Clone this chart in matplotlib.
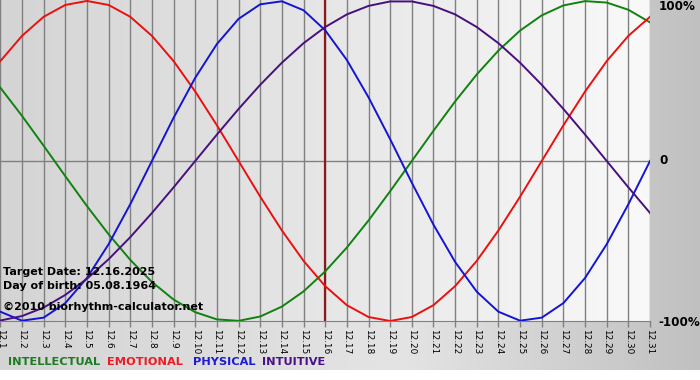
import numpy as np
import matplotlib
matplotlib.use('Agg')
import matplotlib.pyplot as plt

# days of December shown on the x axis
days = list(range(1, 32))
day_labels = ['12.%d' % d for d in days]
target_day = 16

# rhythm values (fraction of 100%) read per day
physical = [-0.942, -0.998, -0.979, -0.888, -0.731, -0.520, -0.270, 0.0, 0.270, 0.520,
            0.731, 0.888, 0.979, 0.998, 0.942, 0.817, 0.631, 0.398, 0.136, -0.136,
            -0.398, -0.631, -0.817, -0.942, -0.998, -0.979, -0.888, -0.731, -0.520, -0.270,
            0.0]
emotional = [0.624, 0.782, 0.901, 0.975, 1.0, 0.975, 0.901, 0.782, 0.624, 0.434,
             0.223, 0.0, -0.223, -0.434, -0.624, -0.782, -0.901, -0.975, -1.0, -0.975,
             -0.901, -0.782, -0.624, -0.434, -0.223, 0.0, 0.223, 0.434, 0.624, 0.782,
             0.901]
intellectual = [0.458, 0.282, 0.095, -0.095, -0.282, -0.458, -0.618, -0.756, -0.866, -0.945,
                -0.990, -0.999, -0.972, -0.910, -0.815, -0.690, -0.541, -0.372, -0.189, 0.0,
                0.189, 0.372, 0.541, 0.690, 0.815, 0.910, 0.972, 0.999, 0.990, 0.945,
                0.866]
intuitive = [-0.997, -0.969, -0.916, -0.837, -0.736, -0.614, -0.476, -0.325, -0.165, 0.0,
             0.165, 0.325, 0.476, 0.614, 0.736, 0.837, 0.916, 0.969, 0.997, 0.997,
             0.969, 0.916, 0.837, 0.736, 0.614, 0.476, 0.325, 0.165, 0.0, -0.165,
             -0.325]

series_names = ['INTELLECTUAL', 'EMOTIONAL', 'PHYSICAL', 'INTUITIVE']
series_values = [intellectual, emotional, physical, intuitive]
line_colors = ['#0f820f', '#ea1010', '#1414d4', '#48107e']
text_colors = ['#1e7b22', '#ee1c25', '#1c1cd4', '#4b1288']

W, H = 700, 380
fig = plt.figure(figsize=(W / 100, H / 100), dpi=100)

# grey frame behind everything, white strip at the very bottom
bg = fig.add_axes([0, 0, 1, 1], zorder=-1)
bg.axis('off')
shade = np.interp(np.arange(W), [0, 400, 650, 700], [212, 228, 198, 192]) / 255
img = np.ones((H, W, 3))
img[:370] = shade[None, :, None]
bg.imshow(img, extent=(0, 1, 0, 1), aspect='auto', interpolation='bilinear')
bg.set_xlim(0, 1)
bg.set_ylim(0, 1)

# plot area
ax = fig.add_axes([0.34 / W, 59 / H, 649.7 / W, 321 / H])
grad = np.linspace(212, 249, 256) / 255
ax.imshow(np.dstack([grad, grad, grad]).reshape(1, 256, 3),
          extent=(0, 1, 0, 1), transform=ax.transAxes, aspect='auto', zorder=0)
ax.set_xlim(1, 31)
ax.set_ylim(-1, 1.006)

ax.set_xticks(days)
ax.set_xticklabels(day_labels, rotation=-90, fontsize=6.4, va='top')
ax.set_yticks([])
ax.tick_params(axis='x', direction='out', length=4, width=1, color='#808080', pad=2)
ax.grid(axis='x', color='#808080', lw=1, zorder=1)
ax.axhline(0, color='#808080', lw=1, zorder=1)
for s in ['top', 'left', 'right']:
    ax.spines[s].set_visible(False)
ax.spines['bottom'].set_color('#808080')

ax.axvline(target_day, color='#8b1a1a', lw=1.6, zorder=2)

for vals, c in zip(series_values, line_colors):
    ax.plot(days, vals, color=c, lw=1.4, zorder=3, solid_joinstyle='round')

# right hand percent labels
fig.text(659 / W, 1 - 7 / H, '100%', fontsize=8.6, weight='bold', va='center')
fig.text(659 / W, 1 - 161 / H, '0', fontsize=8.6, weight='bold', va='center')
fig.text(658 / W, 1 - 323 / H, '-100%', fontsize=8.6, weight='bold', va='center')

# info block over the plot
fig.text(3 / W, 1 - 272 / H, 'Target Date: 12.16.2025', fontsize=8, weight='bold', va='center')
fig.text(3 / W, 1 - 286 / H, 'Day of birth: 05.08.1964', fontsize=8, weight='bold', va='center')
fig.text(3 / W, 1 - 307 / H, '\u00a92010 biorhythm-calculator.net', fontsize=8, weight='bold', va='center')

# legend line at the bottom
for name, c, x in zip(series_names, text_colors, [8, 107, 193, 262]):
    fig.text(x / W, 1 - 362 / H, name, color=c, fontsize=8.2, weight='bold', va='center')

fig.savefig('out.png', dpi=100)
